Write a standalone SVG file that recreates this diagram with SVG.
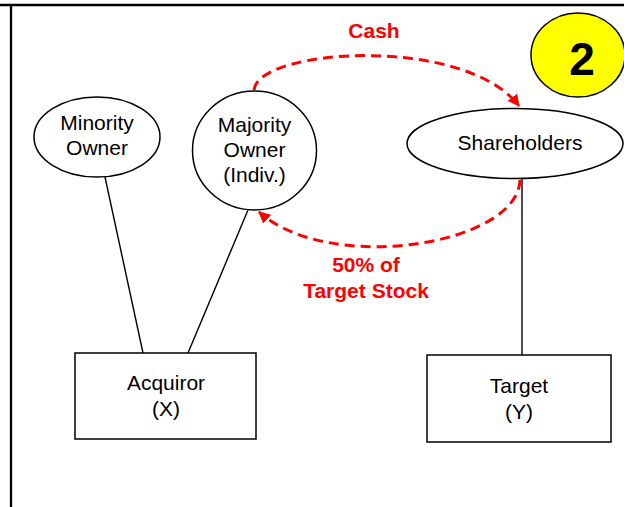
<svg xmlns="http://www.w3.org/2000/svg" width="624" height="507" viewBox="0 0 624 507">
<defs>
<style>
.shape{fill:#fff;stroke:#000;stroke-width:1.5}
.lbl{font-family:"Liberation Sans",Arial,sans-serif;font-size:21px;fill:#000;text-anchor:middle}
.red{font-family:"Liberation Sans",Arial,sans-serif;font-size:21px;font-weight:bold;fill:#f00;text-anchor:middle}
.line{stroke:#000;stroke-width:1.4;fill:none}
.flow{stroke:#f00;stroke-width:3;fill:none;stroke-dasharray:10 6}
</style>
<marker id="arr" viewBox="0 0 12 12" refX="11" refY="6" markerWidth="12" markerHeight="12" markerUnits="userSpaceOnUse" orient="auto">
<path d="M0,0 L12,6 L0,12 Z" fill="#f00"/>
</marker>
</defs>
<rect width="624" height="507" fill="#fff"/>
<g id="frame">
<line x1="0" y1="5" x2="624" y2="5" stroke="#000" stroke-width="2.3"/>
<line x1="11" y1="5" x2="11" y2="507" stroke="#000" stroke-width="2.3"/>
</g>
<g id="connectors">
<line class="line" x1="105" y1="177" x2="143" y2="353"/>
<line class="line" x1="248" y1="210" x2="188" y2="353"/>
<line class="line" x1="522" y1="178" x2="522" y2="355"/>
<path class="flow" d="M254,90 C258,48 465,35 519,106" marker-end="url(#arr)"/>
<path class="flow" d="M520,180 C518,245 330,275 259,212" marker-end="url(#arr)"/>
<text class="red" x="374" y="38">Cash</text>
<text class="red" x="366" y="272">50% of</text>
<text class="red" x="366" y="298">Target Stock</text>
</g>
<g id="minority">
<ellipse class="shape" cx="97" cy="137" rx="63" ry="40"/>
<text class="lbl" x="97" y="130">Minority</text>
<text class="lbl" x="97" y="155">Owner</text>
</g>
<g id="majority">
<ellipse class="shape" cx="254.5" cy="150.5" rx="62" ry="59.5"/>
<text class="lbl" x="254.5" y="132">Majority</text>
<text class="lbl" x="254.5" y="157">Owner</text>
<text class="lbl" x="254.5" y="182">(Indiv.)</text>
</g>
<g id="shareholders">
<ellipse class="shape" cx="515" cy="143.5" rx="108" ry="35"/>
<text class="lbl" x="520" y="150">Shareholders</text>
</g>
<g id="acquiror">
<rect class="shape" x="75" y="353" width="181" height="86"/>
<text class="lbl" x="166" y="390">Acquiror</text>
<text class="lbl" x="166" y="416">(X)</text>
</g>
<g id="target">
<rect class="shape" x="427" y="355" width="184" height="87"/>
<text class="lbl" x="519" y="393">Target</text>
<text class="lbl" x="519" y="419">(Y)</text>
</g>
<g id="badge">
<ellipse cx="578" cy="55" rx="47" ry="42" fill="#ff0" stroke="#000" stroke-width="1.5"/>
<text x="582" y="75" font-family="'Liberation Sans',Arial,sans-serif" font-size="46" font-weight="bold" text-anchor="middle" fill="#000">2</text>
</g>
</svg>
